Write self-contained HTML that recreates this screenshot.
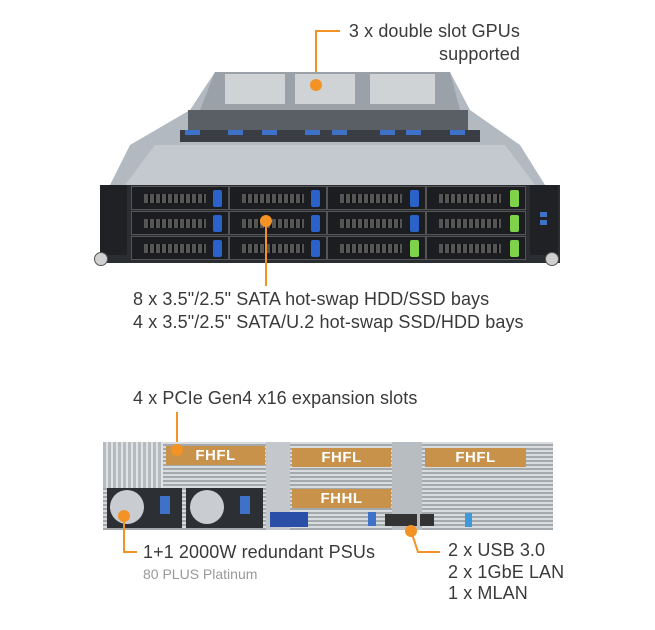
<!DOCTYPE html>
<html><head><style>
body{margin:0;width:655px;height:630px;background:#fff;position:relative;overflow:hidden;font-family:"Liberation Sans",sans-serif;color:#333}
.a{position:absolute}
.t{position:absolute;font-size:18px;letter-spacing:0.1px;line-height:23px;color:#3a3a3a;white-space:nowrap}
.o{position:absolute;background:#f39325}
.dot{position:absolute;width:12px;height:12px;border-radius:50%;background:#f39325}
.bay{position:absolute;background:#1b1d20;border:1px solid #555;box-sizing:border-box}
.bay i{position:absolute;left:12px;top:7px;width:62px;height:9px;background:repeating-linear-gradient(90deg,#555 0 4px,#111 4px 6px)}
.bay b{position:absolute;right:6px;top:3px;width:9px;height:17px;background:#2a62c9;border-radius:2px}
.bay b.g{background:#7fd34a}
.lbl{position:absolute;background:#c8924a;color:#fff;font-size:15px;line-height:19px;text-align:center;font-weight:bold;letter-spacing:0.5px}
.grille{background:repeating-linear-gradient(0deg,#a4a9ae 0 2px,#d9dcdf 2px 4px)}
</style></head><body>
<div class="t" style="right:135px;top:20px;text-align:right">3 x double slot GPUs<br>supported</div>
<div class="o" style="left:315px;top:30px;width:25px;height:2px"></div>
<div class="o" style="left:315px;top:30px;width:2px;height:55px"></div>

<svg class="a" style="left:0;top:0" width="655" height="300">
<polygon points="215,72 450,72 470,110 520,145 545,185 110,185 130,145 190,110" fill="#b3b9c0"/>
<polygon points="215,72 450,72 460,110 200,110" fill="#9aa1a8"/>
<rect x="225" y="74" width="60" height="30" fill="#d0d3d6"/>
<rect x="295" y="74" width="60" height="30" fill="#d0d3d6"/>
<rect x="370" y="74" width="65" height="30" fill="#d0d3d6"/>
<rect x="188" y="110" width="280" height="22" fill="#5a5f66"/>
<rect x="180" y="130" width="300" height="12" fill="#3a3e44"/>
<g fill="#3d72c8"><rect x="185" y="130" width="15" height="5"/><rect x="228" y="130" width="15" height="5"/><rect x="262" y="130" width="15" height="5"/><rect x="305" y="130" width="15" height="5"/><rect x="332" y="130" width="15" height="5"/><rect x="380" y="130" width="15" height="5"/><rect x="406" y="130" width="15" height="5"/><rect x="450" y="130" width="15" height="5"/></g>
<polygon points="155,145 505,145 535,185 125,185" fill="#c3c9cf"/>
</svg>
<div class="dot" style="left:310px;top:79px"></div>
<div class="a" style="left:100px;top:185px;width:460px;height:78px;background:#2a2d31"></div>
<div class="a" style="left:100px;top:185px;width:27px;height:70px;background:#1f2124"></div>
<div class="a" style="left:530px;top:185px;width:28px;height:70px;background:#1f2124"></div>
<div class="a" style="left:94px;top:252px;width:12px;height:12px;border-radius:50%;background:#d0d0d0;border:1px solid #555"></div>
<div class="a" style="left:545px;top:252px;width:12px;height:12px;border-radius:50%;background:#d0d0d0;border:1px solid #555"></div>
<div class="a" style="left:540px;top:212px;width:7px;height:5px;background:#3d72c8"></div>
<div class="a" style="left:540px;top:220px;width:7px;height:5px;background:#3d72c8"></div>
<div class="bay" style="left:131px;top:186px;width:98px;height:24px"><i></i><b></b></div>
<div class="bay" style="left:229px;top:186px;width:98px;height:24px"><i></i><b></b></div>
<div class="bay" style="left:327px;top:186px;width:99px;height:24px"><i></i><b></b></div>
<div class="bay" style="left:426px;top:186px;width:100px;height:24px"><i></i><b class="g"></b></div>
<div class="bay" style="left:131px;top:211px;width:98px;height:24px"><i></i><b></b></div>
<div class="bay" style="left:229px;top:211px;width:98px;height:24px"><i></i><b></b></div>
<div class="bay" style="left:327px;top:211px;width:99px;height:24px"><i></i><b></b></div>
<div class="bay" style="left:426px;top:211px;width:100px;height:24px"><i></i><b class="g"></b></div>
<div class="bay" style="left:131px;top:236px;width:98px;height:24px"><i></i><b></b></div>
<div class="bay" style="left:229px;top:236px;width:98px;height:24px"><i></i><b></b></div>
<div class="bay" style="left:327px;top:236px;width:99px;height:24px"><i></i><b class="g"></b></div>
<div class="bay" style="left:426px;top:236px;width:100px;height:24px"><i></i><b class="g"></b></div>
<div class="dot" style="left:260px;top:215px"></div>
<div class="o" style="left:265px;top:222px;width:2px;height:64px"></div>
<div class="t" style="left:133px;top:288px">8 x 3.5"/2.5" SATA hot-swap HDD/SSD bays<br>4 x 3.5"/2.5" SATA/U.2 hot-swap SSD/HDD bays</div>

<div class="t" style="left:133px;top:387px">4 x PCIe Gen4 x16 expansion slots</div>
<div class="o" style="left:176px;top:412px;width:2px;height:36px"></div>
<div class="a grille" style="left:103px;top:442px;width:450px;height:88px"></div>
<div class="a" style="left:103px;top:442px;width:60px;height:46px;background:repeating-linear-gradient(90deg,#b6bbc0 0 3px,#e0e3e6 3px 5px)"></div>
<div class="a" style="left:266px;top:442px;width:24px;height:88px;background:#c4c8cc"></div>
<div class="a" style="left:392px;top:442px;width:30px;height:88px;background:#b8bdc2"></div>
<div class="lbl" style="left:166px;top:446px;width:99px">FHFL</div>
<div class="lbl" style="left:292px;top:448px;width:99px">FHFL</div>
<div class="lbl" style="left:292px;top:489px;width:99px">FHHL</div>
<div class="lbl" style="left:425px;top:448px;width:101px">FHFL</div>
<div class="dot" style="left:171px;top:444px"></div>
<div class="a" style="left:107px;top:488px;width:75px;height:40px;background:#2c2f33"></div>
<div class="a" style="left:186px;top:488px;width:77px;height:40px;background:#2c2f33"></div>
<div class="a" style="left:110px;top:490px;width:34px;height:34px;border-radius:50%;background:#c9ccd0"></div>
<div class="a" style="left:190px;top:490px;width:34px;height:34px;border-radius:50%;background:#c9ccd0"></div>
<div class="a" style="left:160px;top:496px;width:10px;height:18px;background:#3d72c8"></div>
<div class="a" style="left:240px;top:496px;width:10px;height:18px;background:#3d72c8"></div>
<div class="a" style="left:270px;top:512px;width:38px;height:15px;background:#2a4fa8"></div>
<div class="a" style="left:368px;top:512px;width:8px;height:14px;background:#3d72c8"></div>
<div class="a" style="left:385px;top:514px;width:32px;height:12px;background:#333"></div>
<div class="a" style="left:420px;top:514px;width:14px;height:12px;background:#333"></div>
<div class="a" style="left:465px;top:513px;width:7px;height:14px;background:#3d9ad8"></div>
<div class="dot" style="left:118px;top:510px"></div>
<div class="o" style="left:123px;top:516px;width:2px;height:37px"></div>
<div class="o" style="left:123px;top:551px;width:14px;height:2px"></div>
<div class="t" style="left:143px;top:541px">1+1 2000W redundant PSUs</div>
<div class="a" style="left:143px;top:566px;font-size:14px;color:#999">80 PLUS Platinum</div>
<div class="dot" style="left:405px;top:525px"></div>
<svg class="a" style="left:400px;top:525px" width="50" height="35"><polyline points="11,6 18,27 40,27" fill="none" stroke="#f39325" stroke-width="2"/></svg>
<div class="t" style="left:448px;top:540px;line-height:21.5px">2 x USB 3.0<br>2 x 1GbE LAN<br>1 x MLAN</div>
</body></html>
